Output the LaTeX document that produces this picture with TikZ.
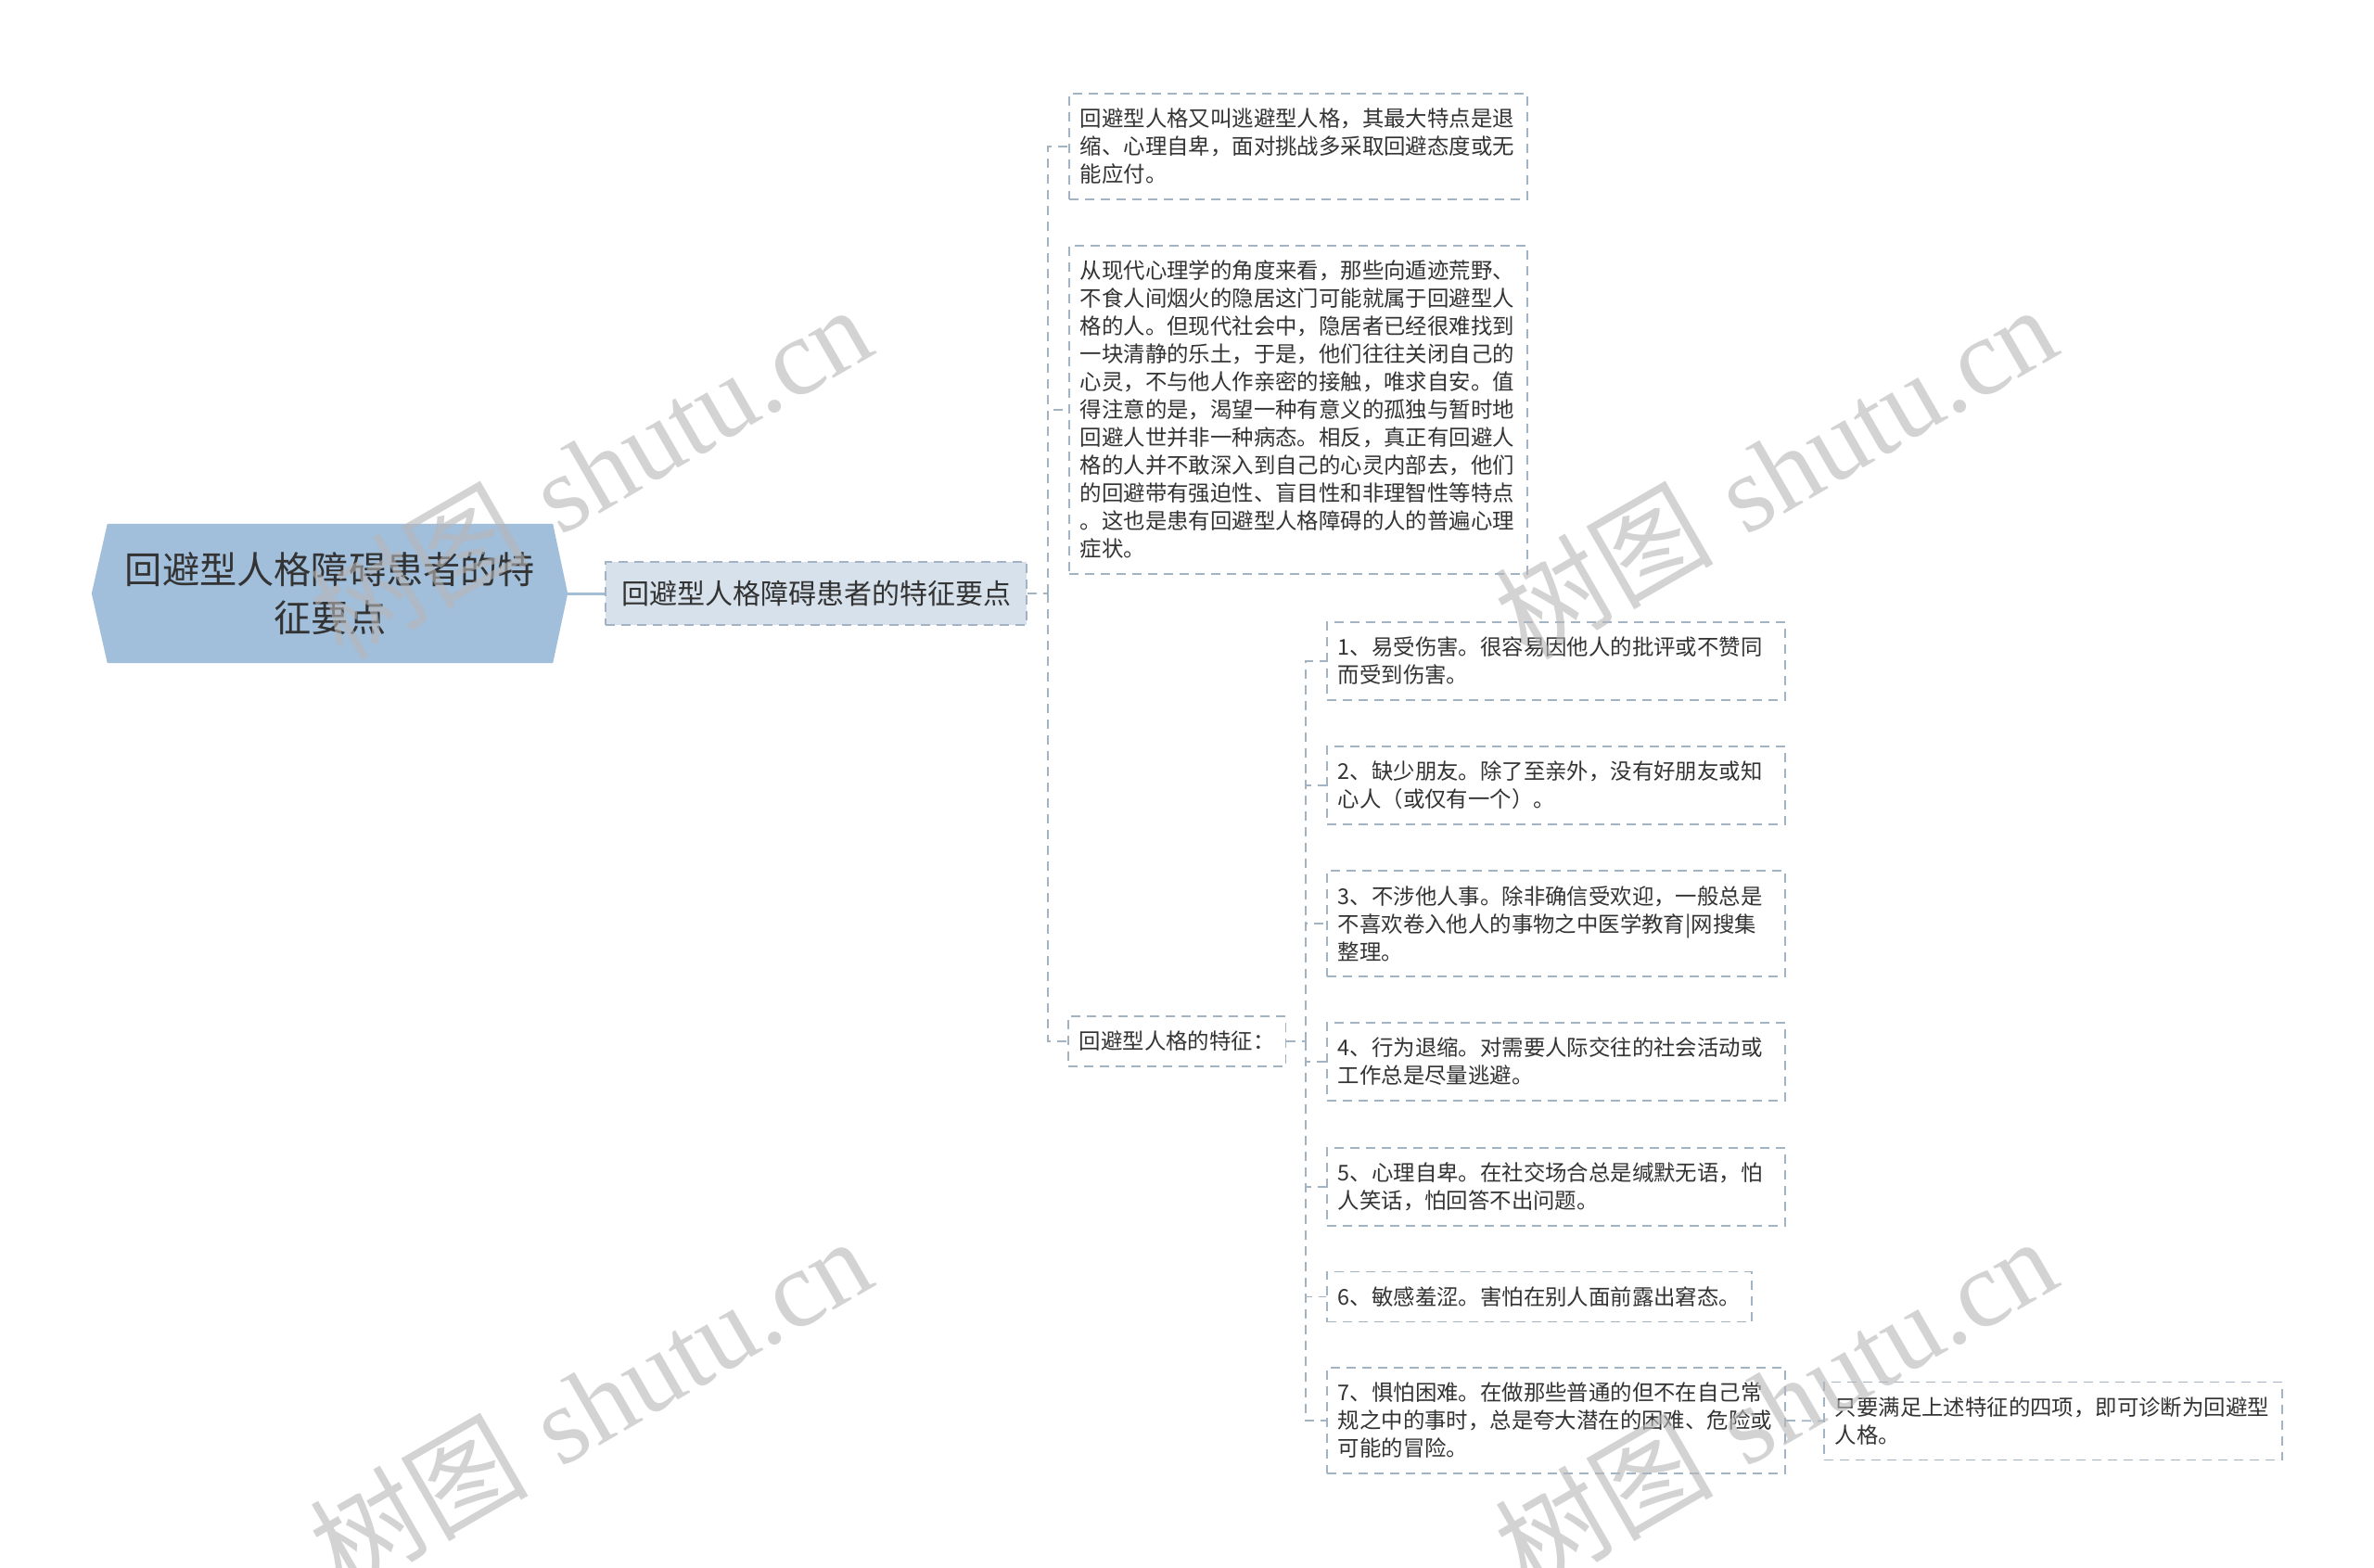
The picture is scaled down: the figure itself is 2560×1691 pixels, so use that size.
\documentclass[tikz,border=0pt]{standalone}
\usepackage{fontspec}
\newfontfamily\cjk{Noto Sans CJK SC}
\newfontfamily\wmserif{Liberation Serif}
\usetikzlibrary{backgrounds}
\definecolor{rootfill}{HTML}{A1BEDB}
\definecolor{subfill}{HTML}{D6E1EB}
\definecolor{bordercol}{HTML}{A2B4C4}
\definecolor{linecol}{HTML}{A3BDD6}
\definecolor{txt}{HTML}{333333}
\definecolor{wmcol}{HTML}{B7B7B7}
\begin{document}
\begin{tikzpicture}[x=1pt,y=-1pt,
  dashline/.style={draw=bordercol, line width=1.8pt, dash pattern=on 10pt off 7pt},
  leafbox/.style={dashline, fill=white, text=txt, font=\cjk\fontsize{23.4}{30}\selectfont,
    align=left, anchor=west, inner xsep=12pt, inner ysep=0pt, minimum height={30*#1+24}},
  widebox/.style={text width=470pt},
  conn/.style={dashline},
  wm/.style={text=wmcol, opacity=0.6, rotate=30, inner sep=0pt, font=\fontsize{118}{118}\selectfont}
]
\useasboundingbox (0,0) rectangle (2560,1691);

% root
\node[font=\cjk\fontsize{40.2}{52}\selectfont, text=txt, align=center,
  minimum width=480pt, minimum height=150pt, inner sep=0pt] (root) at (356,640)
  {回避型人格障碍患者的特\\征要点};
\coordinate (roottip) at ([xshift=16pt]root.east);
\begin{scope}[on background layer]
  \fill[white] (0,0) rectangle (2560,1691);
  \fill[rootfill] (root.north west) -- (root.north east) -- (roottip) -- (root.south east)
    -- (root.south west) -- ([xshift=-17pt]root.west) -- cycle;
\end{scope}

% level 1
\node[dashline, fill=subfill, text=txt, font=\cjk\fontsize{30}{36}\selectfont,
  minimum width=454pt, minimum height=68pt, inner sep=0pt] (sub) at (880,640)
  {回避型人格障碍患者的特征要点};
\draw[linecol, line width=3pt] (roottip) -- (sub.west);

% level 2
\node[leafbox=3, widebox] (A) at (1152,158)
  {回避型人格又叫逃避型人格，其最大特点是退\\缩、心理自卑，面对挑战多采取回避态度或无\\能应付。};
\node[leafbox=11, widebox] (B) at (1152,442)
  {从现代心理学的角度来看，那些向遁迹荒野、\\不食人间烟火的隐居这门可能就属于回避型人\\格的人。但现代社会中，隐居者已经很难找到\\一块清静的乐土，于是，他们往往关闭自己的\\心灵，不与他人作亲密的接触，唯求自安。值\\得注意的是，渴望一种有意义的孤独与暂时地\\回避人世并非一种病态。相反，真正有回避人\\格的人并不敢深入到自己的心灵内部去，他们\\的回避带有强迫性、盲目性和非理智性等特点\\。这也是患有回避型人格障碍的人的普遍心理\\症状。};
\node[leafbox=1] (C) at (1151,1123) {回避型人格的特征：};

\coordinate (s1) at (1130,640);
\draw[conn] (sub.east) -- (s1);
\draw[conn] (s1) |- (A.west);
\draw[conn] (s1) |- (B.west);
\draw[conn] (s1) |- (C.west);

% level 3
\node[leafbox=2, widebox] (i1) at (1430,713)
  {1、易受伤害。很容易因他人的批评或不赞同\\而受到伤害。};
\node[leafbox=2, widebox] (i2) at (1430,847)
  {2、缺少朋友。除了至亲外，没有好朋友或知\\心人（或仅有一个）。};
\node[leafbox=3, widebox] (i3) at (1430,996)
  {3、不涉他人事。除非确信受欢迎，一般总是\\不喜欢卷入他人的事物之中医学教育|网搜集\\整理。};
\node[leafbox=2, widebox] (i4) at (1430,1145)
  {4、行为退缩。对需要人际交往的社会活动或\\工作总是尽量逃避。};
\node[leafbox=2, widebox] (i5) at (1430,1280)
  {5、心理自卑。在社交场合总是缄默无语，怕\\人笑话，怕回答不出问题。};
\node[leafbox=1] (i6) at (1430,1398.5)
  {6、敏感羞涩。害怕在别人面前露出窘态。};
\node[leafbox=3, widebox] (i7) at (1430,1532)
  {7、惧怕困难。在做那些普通的但不在自己常\\规之中的事时，总是夸大潜在的困难、危险或\\可能的冒险。};
\node[leafbox=2, widebox] (fin) at (1966,1532.5)
  {只要满足上述特征的四项，即可诊断为回避型\\人格。};

\coordinate (s2) at (1408,1123);
\draw[conn] (C.east) -- (s2);
\foreach \n in {i1,i2,i3,i4,i5,i6,i7} { \draw[conn] (s2) |- (\n.west); }
\draw[conn] (i7.east) -- (fin.west);

% watermarks
\node[wm] (wm1) at (636,508) {{\cjk 树图} {\wmserif shutu.cn}};
\node[wm] (wm2) at (1914,508) {{\cjk 树图} {\wmserif shutu.cn}};
\node[wm] (wm3) at (636,1513) {{\cjk 树图} {\wmserif shutu.cn}};
\node[wm] (wm4) at (1914,1513) {{\cjk 树图} {\wmserif shutu.cn}};
\end{tikzpicture}
\end{document}
